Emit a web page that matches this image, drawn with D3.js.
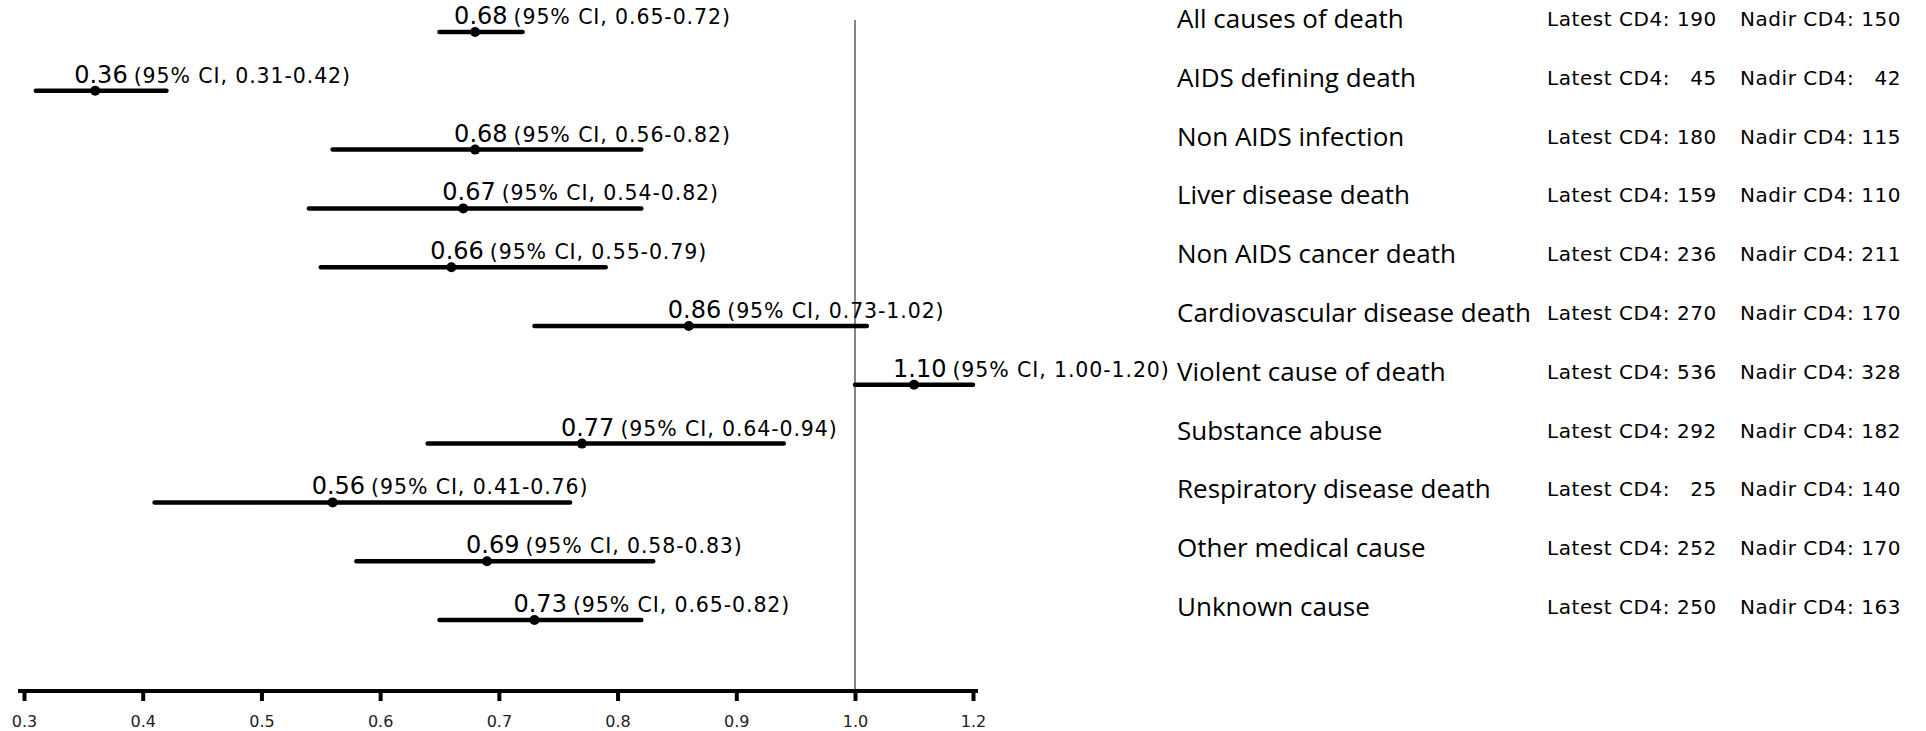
<!DOCTYPE html>
<html><head><meta charset="utf-8">
<script src="https://cdn.jsdelivr.net/npm/d3@7"></script>
<style>body{margin:0;background:#fff;} svg{display:block;}</style>
</head><body><svg id="chart" width="1926" height="731"></svg>
<script>
const categories = ["All causes of death","AIDS defining death","Non AIDS infection","Liver disease death","Non AIDS cancer death","Cardiovascular disease death","Violent cause of death","Substance abuse","Respiratory disease death","Other medical cause","Unknown cause"];
const hazardRatio = [0.68,0.36,0.68,0.67,0.66,0.86,1.10,0.77,0.56,0.69,0.73];
const ciLower = [0.65,0.31,0.56,0.54,0.55,0.73,1.00,0.64,0.41,0.58,0.65];
const ciUpper = [0.72,0.42,0.82,0.82,0.79,1.02,1.20,0.94,0.76,0.83,0.82];
const latestCD4 = [190,45,180,159,236,270,536,292,25,252,250];
const nadirCD4 = [150,42,115,110,211,170,328,182,140,170,163];
const tickValues = [0.3,0.4,0.5,0.6,0.7,0.8,0.9,1.0,1.2];

const svg = d3.select("#chart");
svg.append("rect").attr("width",1926).attr("height",731).attr("fill","#fff");
const x = d3.scaleLinear().domain([0.3,1.0,1.2]).range([24,855,973]);
const y = d3.scalePoint().domain(categories).range([32,620]);
const rows = categories.map((c,i)=>({cat:c, hr:hazardRatio[i], lo:ciLower[i], hi:ciUpper[i], latest:latestCD4[i], nadir:nadirCD4[i]}));
const axisY = 691;
const verdanaLike = "'DejaVu Sans', Verdana, sans-serif";

// reference line at 1.0
svg.append("line").attr("x1",x(1)).attr("x2",x(1)).attr("y1",20).attr("y2",axisY)
  .attr("stroke","#333").attr("stroke-width",1.2);

// axis
const axis = d3.axisBottom(x).tickValues(tickValues).tickFormat(d3.format(".1f"))
  .tickSizeInner(10).tickSizeOuter(0).tickPadding(15);
const gAxis = svg.append("g").attr("transform",`translate(0,${axisY})`).call(axis);
gAxis.select(".domain").remove();
gAxis.insert("line",":first-child").attr("x1",x.range()[0]-6).attr("x2",x.range()[2]+5)
  .attr("y1",0).attr("y2",0).attr("stroke","#000").attr("stroke-width",4);
gAxis.selectAll(".tick line").attr("stroke","#000").attr("stroke-width",4);
gAxis.selectAll(".tick text").attr("font-family",verdanaLike)
  .attr("font-size",16).attr("fill","#222");

// CI bars and points
svg.append("g").selectAll("line").data(rows).join("line")
  .attr("x1",d=>x(d.lo)).attr("x2",d=>x(d.hi))
  .attr("y1",d=>y(d.cat)).attr("y2",d=>y(d.cat))
  .attr("stroke","#000").attr("stroke-width",4.5).attr("stroke-linecap","round");
svg.append("g").selectAll("circle").data(rows).join("circle")
  .attr("cx",d=>x(d.hr)).attr("cy",d=>y(d.cat)).attr("r",5).attr("fill","#000");

// value labels
const lab = svg.append("g").selectAll("text").data(rows).join("text")
  .attr("x",d=>x(d.hr)-21).attr("y",d=>y(d.cat)-8)
  .attr("font-family",verdanaLike).attr("fill","#000");
lab.append("tspan").attr("font-size",24).text(d=>d.hr.toFixed(2));
lab.append("tspan").attr("font-size",20.5).attr("letter-spacing",0.9).attr("dx",6)
  .text(d=>`(95% CI, ${d.lo.toFixed(2)}-${d.hi.toFixed(2)})`);

// right side text
const right = svg.append("g");
right.selectAll("text.cat").data(rows).join("text").attr("class","cat")
  .attr("x",1177).attr("y",d=>y(d.cat)-4)
  .attr("font-family","'Open Sans', 'Noto Sans', sans-serif").attr("font-size",26).attr("fill","#000")
  .text(d=>d.cat);
const pad = v => String(v).padStart(3,"\u2007");
right.selectAll("text.lat").data(rows).join("text").attr("class","lat")
  .attr("x",1547).attr("y",d=>y(d.cat)-6).attr("font-family",verdanaLike).attr("font-size",20)
  .attr("letter-spacing",0.55).attr("fill","#000")
  .text(d=>`Latest CD4: ${pad(d.latest)}`);
right.selectAll("text.nad").data(rows).join("text").attr("class","nad")
  .attr("x",1740).attr("y",d=>y(d.cat)-6).attr("font-family",verdanaLike).attr("font-size",20)
  .attr("letter-spacing",0.55).attr("fill","#000")
  .text(d=>`Nadir CD4: ${pad(d.nadir)}`);
</script>
</body></html>
